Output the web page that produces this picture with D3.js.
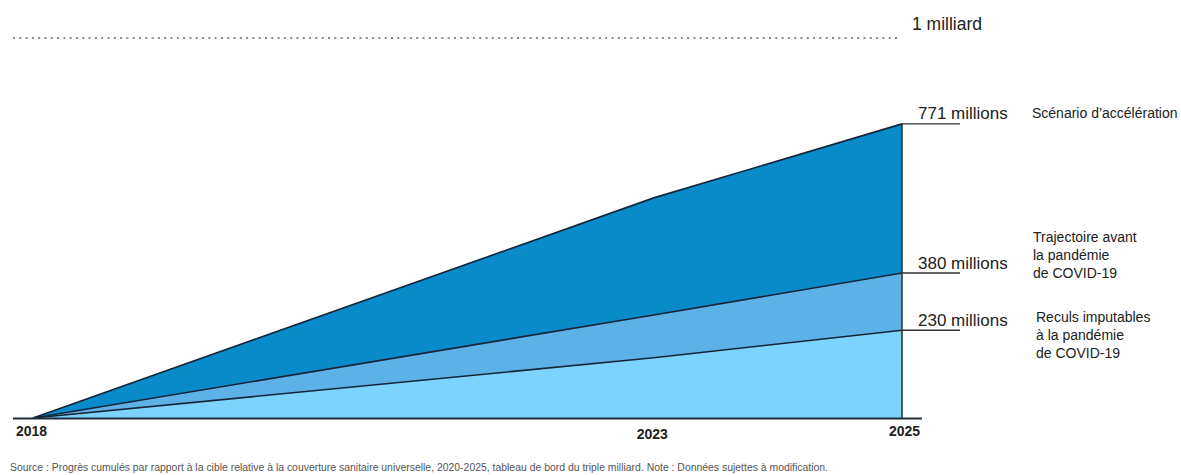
<!DOCTYPE html>
<html>
<head>
<meta charset="utf-8">
<script src="https://cdn.jsdelivr.net/npm/d3@7"></script>
<style>
  html, body { margin: 0; padding: 0; background: #fff; }
  svg { display: block; font-family: "Liberation Sans", Arial, sans-serif; }
</style>
</head>
<body>
<svg id="chart" width="1181" height="475"></svg>
<script>
// ---- data (millions of people) ----
const years = [2018, 2023, 2025];
const acceleration = [0, 577, 771];     // Scénario d'accélération
const prePandemic = [0, 270, 380];      // Trajectoire avant la pandémie
const setbacks = [0, 158, 230];         // Reculs imputables à la pandémie
const targetValue = 1000;               // 1 milliard
const tickYears = [2018, 2023, 2025];
const endLabels = ["771 millions", "380 millions", "230 millions"];
const seriesNames = [
  ["Scénario d’accélération"],
  ["Trajectoire avant", "la pandémie", "de COVID-19"],
  ["Reculs imputables", "à la pandémie", "de COVID-19"]
];
const targetLabel = "1 milliard";
const sourceText = "Source : Progrès cumulés par rapport à la cible relative à la couverture sanitaire universelle, 2020-2025, tableau de bord du triple milliard. Note : Données sujettes à modification.";

// ---- scales ----
const svg = d3.select("#chart");
const x = d3.scaleLinear().domain([2018, 2025]).range([33, 902]);
const y = d3.scaleLinear().domain([0, 1000]).range([418, 36.5]);

const rows = years.map((yr, i) => ({
  year: yr, acc: acceleration[i], pre: prePandemic[i], set: setbacks[i]
}));

// ---- areas ----
const bands = [
  { lo: d => 0, hi: d => d.set, fill: "#7dd3fc" },
  { lo: d => d.set, hi: d => d.pre, fill: "#5eb1e7" },
  { lo: d => d.pre, hi: d => d.acc, fill: "#0a8bc9" }
];
bands.forEach(b => {
  svg.append("path")
    .datum(rows)
    .attr("fill", b.fill)
    .attr("d", d3.area().x(d => x(d.year)).y0(d => y(b.lo(d))).y1(d => y(b.hi(d))));
});

// ---- lines ----
[acceleration, prePandemic, setbacks].forEach(vals => {
  svg.append("path")
    .datum(years.map((yr, i) => [yr, vals[i]]))
    .attr("fill", "none")
    .attr("stroke", "#14253a")
    .attr("stroke-width", 1.6)
    .attr("d", d3.line().x(d => x(d[0])).y(d => y(d[1])));
});

// vertical right edge
svg.append("line")
  .attr("x1", x(2025)).attr("x2", x(2025))
  .attr("y1", y(acceleration[acceleration.length - 1])).attr("y2", y(0))
  .attr("stroke", "#2a2f36").attr("stroke-width", 1.5);

// baseline
svg.append("line")
  .attr("x1", 13).attr("x2", 922)
  .attr("y1", y(0) + 0.5).attr("y2", y(0) + 0.5)
  .attr("stroke", "#1f2d3a").attr("stroke-width", 2);

// target dotted line
svg.append("line")
  .attr("x1", 13).attr("x2", 900)
  .attr("y1", y(targetValue) + 1.5).attr("y2", y(targetValue) + 1.5)
  .attr("stroke", "#8a8a8a").attr("stroke-width", 2)
  .attr("stroke-dasharray", "2,4.3");
svg.append("text")
  .attr("x", 912).attr("y", 30)
  .attr("font-size", 17.5).attr("fill", "#222")
  .text(targetLabel);

// ---- axis ----
const axis = svg.append("g")
  .attr("transform", `translate(0,${y(0)})`)
  .call(d3.axisBottom(x).tickValues(tickYears).tickFormat(d3.format("d")).tickSize(0).tickPadding(8.5));
axis.select(".domain").remove();
axis.selectAll("text")
  .attr("font-size", 14).attr("font-weight", "bold").attr("fill", "#222")
  .attr("font-family", "\"Liberation Sans\", Arial, sans-serif")
  .attr("transform", d => d === 2023 ? "translate(-2,3)" : (d === 2018 ? "translate(-2,0)" : "translate(2,0)"));

// ---- end labels ----
const endVals = [acceleration[2], prePandemic[2], setbacks[2]];
const nameY = [118, 241.5, 321.5];
const nameX = [1032, 1033, 1036];
endVals.forEach((v, i) => {
  const yy = y(v);
  svg.append("line")
    .attr("x1", x(2025)).attr("x2", 960)
    .attr("y1", yy).attr("y2", yy)
    .attr("stroke", "#333").attr("stroke-width", 1.4);
  svg.append("text")
    .attr("x", 918).attr("y", yy - 4.5)
    .attr("font-size", 17).attr("fill", "#222")
    .text(endLabels[i]);
  const t = svg.append("text")
    .attr("x", nameX[i]).attr("y", nameY[i])
    .attr("font-size", 14).attr("fill", "#222");
  seriesNames[i].forEach((line, j) => {
    t.append("tspan").attr("x", nameX[i]).attr("dy", j === 0 ? 0 : 18.3).text(line);
  });
});

// ---- source ----
svg.append("text")
  .attr("x", 10).attr("y", 471)
  .attr("font-size", 10).attr("fill", "#555")
  .attr("textLength", 818).attr("lengthAdjust", "spacingAndGlyphs")
  .text(sourceText);
</script>
</body>
</html>
